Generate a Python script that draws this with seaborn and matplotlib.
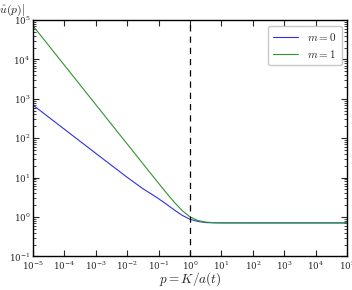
import matplotlib
matplotlib.use("Agg")
import matplotlib.pyplot as plt
import seaborn as sns
import pandas as pd
import numpy as np

p_vals = [1e-5, 1e-4, 1e-3, 1e-2, 10**-1.5, 10**-1.25, 1e-1, 10**-0.75, 10**-0.5, 10**-0.25, 1.0, 10**0.25, 10**0.5, 10**0.75, 1e1, 1e2, 1e3, 1e4, 1e5]
u_m0 = [690, 168, 41, 10.1, 5.2, 3.9, 2.9, 2.1, 1.5, 1.1, 0.87, 0.77, 0.72, 0.71, 0.707, 0.707, 0.707, 0.707, 0.707]
u_m1 = [70700, 7070, 707, 70.7, 22.4, 12.6, 7.11, 4.03, 2.35, 1.45, 1.0, 0.811, 0.742, 0.718, 0.711, 0.707, 0.707, 0.707, 0.707]
labels = [r"$m = 0$", r"$m = 1$"]
colors = ["#3030e0", "#2e962e"]
x_ticks = [10.0**k for k in range(-5, 6)]
y_ticks = [10.0**k for k in range(-1, 6)]

df = pd.DataFrame({
    "p": p_vals * 2,
    "u": u_m0 + u_m1,
    "m": [labels[0]] * len(p_vals) + [labels[1]] * len(p_vals),
})

sns.set_style("ticks")
plt.rcParams["mathtext.fontset"] = "cm"
plt.rcParams["font.family"] = ["DejaVu Serif"]

fig = plt.figure(figsize=(3.52, 2.90), dpi=100)
ax = fig.add_axes([0.094, 0.116, 0.892, 0.815])

sns.lineplot(data=df, x="p", y="u", hue="m", palette=colors, ax=ax, linewidth=0.8, legend=True)
ax.set_xscale("log")
ax.set_yscale("log")
ax.set_xlim(1e-5, 1e5)
ax.set_ylim(1e-1, 1e5)
ax.axvline(1.0, color="black", linestyle=(0, (5, 4)), linewidth=0.9)

ax.set_xticks(x_ticks)
ax.set_yticks(y_ticks)
ax.tick_params(which="both", direction="in", top=True, right=True, labelsize=6.3, pad=2)
ax.tick_params(which="major", length=4, width=0.8)
ax.tick_params(which="minor", length=2, width=0.6)
for s in ax.spines.values():
    s.set_linewidth(1.0)
    s.set_color("black")

ax.set_xlabel("")
ax.set_ylabel("")
fig.text(0.54, 0.006, r"$p = K/a(t)$", fontsize=9.5, ha="center", va="bottom")
fig.text(-0.012, 0.965, r"$|\hat{u}(p)|$", fontsize=8.5, ha="left", va="center")

leg = ax.legend(loc="upper right", fontsize=8, frameon=True, fancybox=True, handlelength=2.2, borderpad=0.5, labelspacing=0.4, title=None)
leg.get_frame().set_edgecolor("#bbbbbb")

fig.savefig("out.png", dpi=100)
